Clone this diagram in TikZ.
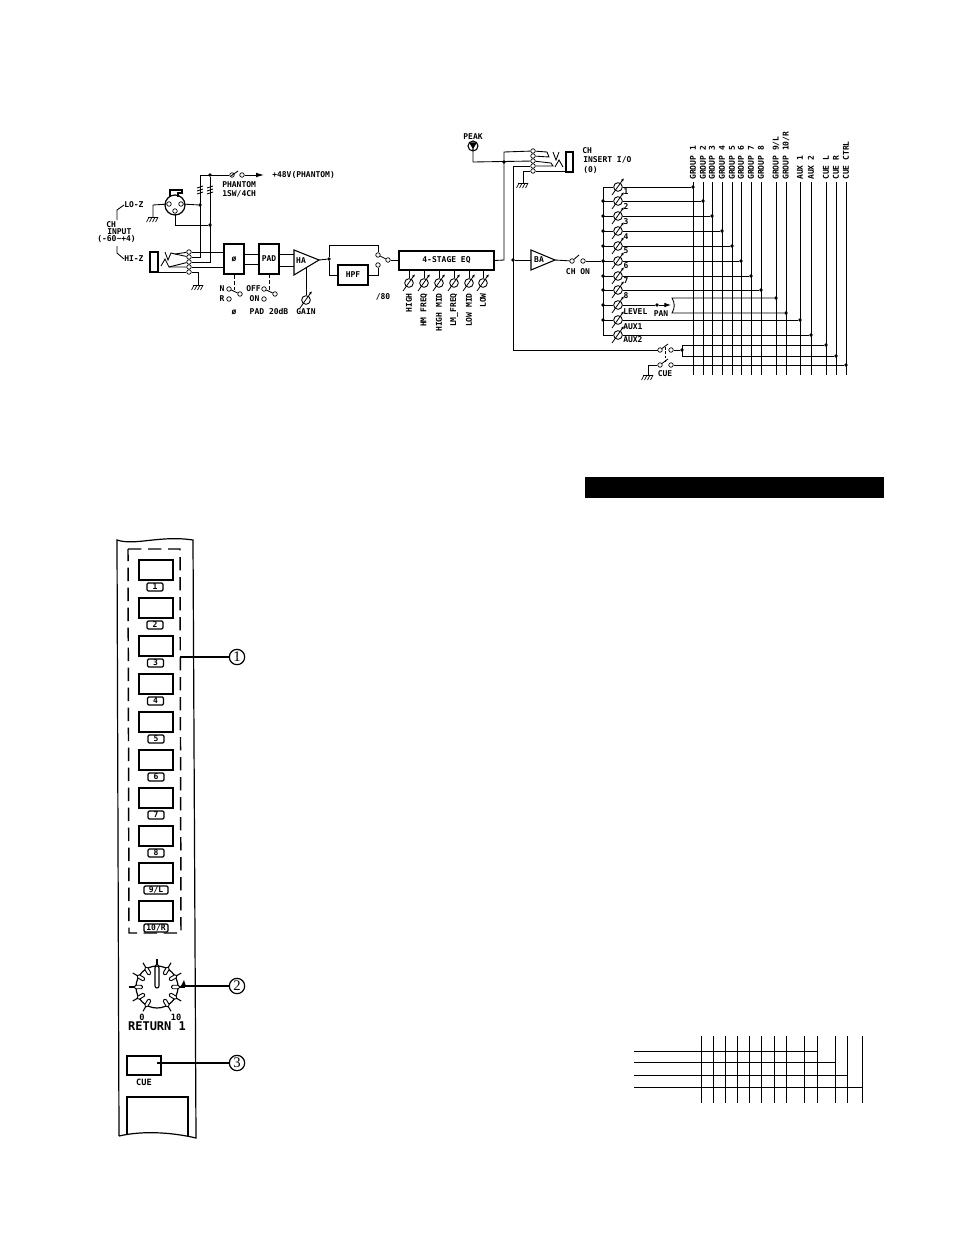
\documentclass[tikz,border=0pt]{standalone}
\usepackage{fontspec}
\setmainfont{DejaVu Sans Mono}
\newfontfamily\circfont{Liberation Serif}
\usetikzlibrary{arrows.meta,calc}
\tikzset{
 wire/.style={line width=0.65pt},
 term/.style={circle,draw,fill=white,inner sep=0,minimum size=3.4pt,line width=.5pt},
 jdot/.style={circle,fill=black,inner sep=0,minimum size=2.8pt},
 box/.style={draw,line width=.8pt,inner sep=0,font=\bfseries\fontsize{6}{7}\selectfont},
 lbl/.style={font=\bfseries\fontsize{6}{7}\selectfont,inner sep=0},
 btn/.style={draw,line width=1.5pt,fill=white,inner sep=0,minimum width=25.5pt,minimum height=15pt},
 tag/.style={draw,line width=.9pt,rounded corners=1pt,inner sep=0,minimum width=12pt,minimum height=6pt,font=\bfseries\fontsize{6}{7}\selectfont},
 callout/.style={circle,draw,line width=.9pt,fill=white,inner sep=0,minimum size=11.5pt,font=\circfont\fontsize{11}{11}\selectfont},
 leader/.style={line width=1pt},
 panel/.style={line width=.9pt},
 pnl/.style={font=\bfseries\fontsize{6.5}{7}\selectfont,inner sep=0},
}
\newcommand\gndsym[3]{% name x y
 \coordinate (#1) at (#2,#3);
 \draw[wire] (#2-5,#3)--(#2+5,#3);
 \foreach \d in {-4,-1,2,5}{\draw[line width=.5pt] (#2+\d,#3)--(#2+\d-2.5,#3+5);}
}
\newcommand\potm[3]{% name x y
 \node[circle,draw,line width=.65pt,inner sep=0,minimum size=6.5pt] (#1) at (#2,#3) {};
 \draw[line width=.6pt,-{Latex[length=2.5pt,width=2pt]}] (#2-6,#3+8)--(#2+6,#3-9);
}
\begin{document}
\begin{tikzpicture}[x=0.75pt,y=-0.75pt]
\useasboundingbox (0,0) rectangle (954,1235);
\fill[white] (0,0) rectangle (954,1235);

% ---------- input section
\coordinate (Ja) at (200,175);
\node[jdot] (Jb) at (210,175) {};
\node[term] (ph1) at (232,175) {};
\node[term] (ph2) at (242,175) {};
\coordinate (phend) at (264,175);
\draw[wire] (Ja)--(ph1);
\draw[wire] (231,176)--(238,171);
\draw[wire,-{Latex[length=6pt,width=3.5pt]}] (ph2)--(phend);
\node[lbl,anchor=west] (t48) at (272,175) {+48V(PHANTOM)};
\node[lbl,anchor=west] (tph) at (222,185) {PHANTOM};
\node[lbl,anchor=west] (tsw) at (222,194) {1SW/4CH};
\foreach \x in {200,210}{\foreach \y in {187,190,193}{\draw[line width=.6pt] (\x-3,\y+1)--(\x+3,\y-1);}}

% XLR
\node[circle,draw,line width=.9pt,inner sep=0,minimum size=15pt] (xlr) at (175,205) {};
\draw[line width=.8pt] (170,197)--(170,190)--(182,190)--(182,193)--(178,193)--(178,197);
\node[term] (xa) at (169,204) {};
\node[term] (xb) at (181,204) {};
\node[term] (xc) at (175,211) {};
\node[jdot] (xj1) at (200,205) {};
\node[jdot] (xj2) at (210,225) {};
\gndsym{g1}{153}{217}
\draw[wire] (g1)--(153,205)--(xa);
\draw[wire] (xb)--(xj1);
\draw[wire] (xc)|-(xj2);

% CH input text
\node[lbl,anchor=west] (tlo) at (124,205) {LO-Z};
\node[lbl,anchor=west] (thi) at (124,259) {HI-Z};
\node[lbl,anchor=west] (tch) at (106,225) {CH};
\node[lbl,anchor=west] (tin) at (107,232) {INPUT};
\node[lbl,anchor=west] (tr) at (97,239) {(-60\textasciitilde+4)};
\draw[wire] (tlo.west)--(117,210)--(117,220);
\draw[wire] (thi.west)--(117,253)--(117,246);

% input jack
\draw[line width=.9pt] (150,252) rectangle (158,272);
\node[term] (i1) at (189,252) {};
\node[term] (i2) at (189,257) {};
\node[term] (i3) at (189,262) {};
\node[term] (i4) at (189,267) {};
\node[term] (i5) at (189,272) {};
\draw[wire] (165,252)--(168,260)--(171,253)--(175,254)--(i1);
\draw[wire] (175,254)--(i2);
\draw[wire] (161,266)--(165,259)--(169,267)--(i4);
\draw[wire] (169,267)--(i3);
\draw[wire] (158,272)--(i5);
\draw[wire] (Ja)--(200,257)--(i2);
\draw[wire] (Jb)--(210,262)--(i3);
\gndsym{g2}{198}{285}
\draw[wire] (i5)--(198,272)--(g2);

% boxes
\node[box,minimum width=15pt,minimum height=22.5pt] (phi) at (234,259) {ø};
\node[box,minimum width=15pt,minimum height=22.5pt] (pad) at (269,259) {PAD};
\draw[wire] (i1)--(224,252);
\draw[wire] (i4)--(224,267);
\draw[wire] (244,254)--(259,254);
\draw[wire] (244,264)--(259,264);
\draw[line width=.8pt] (294,250)--(319,260)--(294,275)--cycle;
\node[lbl] (ha) at (301,261) {HA};
\coordinate (haout) at (319,260);
\draw[wire] (279,254)--(294,254);
\draw[wire] (279,266)--(294,266);
\node[jdot] (hj) at (329,259) {};
\draw[wire] (haout)--(hj);
\potm{gain}{306}{300}
\draw[wire] (306,267)--(gain);
\node[lbl] (tgain) at (306,312) {GAIN};

% N/R and OFF/ON
\node[lbl] (tn) at (222,289) {N};
\node[lbl] (tR) at (222,299) {R};
\node[term] (n1) at (229,289) {};
\node[term] (n2) at (229,299) {};
\node[term] (n3) at (240,294) {};
\draw[wire] (n1)--(n3);
\draw[wire,dash pattern=on 3pt off 1.5pt] (phi.south)--(234,290);
\node[lbl] (toff) at (253.5,289) {OFF};
\node[lbl] (ton) at (254.5,299) {ON};
\node[term] (o1) at (264,289) {};
\node[term] (o2) at (264,299) {};
\node[term] (o3) at (275,294) {};
\draw[wire,dash pattern=on 3pt off 1.5pt] (269,274)--(269,290);
\draw[wire] (o1)--(o3);
\node[lbl] (tphi) at (234,312) {ø};
\node[lbl] (tpad) at (269,312) {PAD 20dB};

% HPF & switch
\node[box,minimum width=22.5pt,minimum height=15pt] (hpf) at (353,275) {HPF};
\node[term] (s1) at (378,255) {};
\node[term] (s2) at (378,265) {};
\node[term] (s3) at (388,260) {};
\draw[wire] (hj)--(329,245)-|(s1);
\draw[wire] (hj)--(329,275)--(hpf);
\draw[wire] (hpf)-|(s2);
\draw[wire] (s1)--(s3);
\node[lbl] (t80) at (383,297) {/80};

% EQ
\node[box,minimum width=71.25pt,minimum height=14.25pt] (eq) at (446.5,260.5) {4-STAGE EQ};
\draw[wire] (s3)--(399,260);
\foreach \n/\x/\t in {e1/409/HIGH,e2/424/HM FREQ,e3/439/HIGH MID,e4/454/LM\_FREQ,e5/469/LOW MID,e6/483/LOW}{
 \potm{\n}{\x}{283}
 \draw[wire] (\x,270)--(\n);
 \node[lbl,rotate=90,anchor=east] (t\n) at (\x,293) {\t};
}

% insert
\node[circle,draw,line width=.8pt,inner sep=0,minimum size=7.5pt] (peak) at (473,146) {};
\draw[line width=.8pt,fill=black] (470,143)--(476,143)--(473,148)--cycle (473,148)--(473,151);
\node[lbl] (tpk) at (473,137) {PEAK};
\node[term] (r1) at (533,151) {};
\node[term] (r2) at (533,156) {};
\node[term] (r3) at (533,161) {};
\node[term] (r4) at (533,166) {};
\node[term] (r5) at (533,171) {};
\node[jdot] (rj) at (504,162) {};
\draw[wire] (eq.east)--(504,260)--(504,152)--(r1);
\draw[wire] (peak)--(473,162)--(r3);
\draw[line width=.9pt] (566,152) rectangle (573,172);
\draw[wire] (r1)--(547,152)--(549,157)--(r2);
\draw[wire] (553,152)--(556,160)--(559,152);
\draw[wire] (r3)--(551,163)--(553,166)--(r4);
\draw[wire] (555,167)--(559,160)--(563,167);
\draw[wire] (r5)--(566,171);
\gndsym{g3}{523}{183}
\draw[wire] (r5)--(523,171)--(g3);
\node[lbl,anchor=west] (tci) at (582,151) {CH};
\node[lbl,anchor=west] (tin2) at (583,160) {INSERT I/O};
\node[lbl,anchor=west] (to) at (583,170) {(0)};

% BA
\node[jdot] (bj) at (513,260) {};
\draw[line width=.8pt] (531,250)--(555,260)--(531,270)--cycle;
\node[lbl] (ba) at (539,260) {BA};
\coordinate (baout) at (555,260);
\node[term] (c1) at (572,261) {};
\node[term] (c2) at (583,261) {};
\draw[wire] (baout)--(c1);
\draw[wire] (c1)--(579,255);
\node[lbl] (tcho) at (578,272) {CH ON};
\node[jdot] (busin) at (603,261) {};
\draw[wire] (c2)--(busin);
\draw[wire] (r4)--(513,166)--(513,350)--(658,350);
\draw[wire] (bj)--(531,260);

% bus & pots
\coordinate (bustop) at (603,187);
\coordinate (busbot) at (603,335);
\draw[wire] (bustop)--(busbot);
\foreach \n/\y in {p1/187,p2/201,p3/216,p4/231,p5/246,p6/261,p7/276,p8/290,p9/305,p10/320,p11/335}{
 \potm{\n}{618}{\y}
 \draw[wire] (603,\y)--(\n);
}
\foreach \y in {201,216,231,246,276,290,305,320}{\node[jdot] at (603,\y) {};}

% output verticals
\foreach \n/\x/\t in {v1/693/GROUP 1,v2/703/GROUP 2,v3/712/GROUP 3,v4/722/GROUP 4,v5/732/GROUP 5,v6/741/GROUP 6,v7/751/GROUP 7,v8/761/GROUP 8,v9/776/{GROUP 9/L},v10/786/{GROUP 10/R},v11/800/AUX 1,v12/811/AUX 2,v13/826/CUE L,v14/836/CUE R,v15/846/CUE CTRL}{
 \node[lbl,rotate=90,anchor=west] (t\n) at (\x,180) {\t};
 \draw[wire] (\x,182)--(\x,375);
}
\foreach \p/\y/\x in {p1/187/693,p2/201/703,p3/216/712,p4/231/722,p5/246/732,p6/261/741,p7/276/751,p8/290/761,p10/320/800,p11/335/811}{
 \node[jdot] (d\p) at (\x,\y) {};
 \draw[wire] (\p)--(d\p);
}
\foreach \t/\y in {1/192,2/207,3/222,4/237,5/251,6/266,7/281,8/296}{\node[lbl] at (626,\y) {\t};}
\node[lbl,anchor=west] (tlevel) at (623,312) {LEVEL};
\node[lbl,anchor=west] (taux1) at (623,327) {AUX1};
\node[lbl,anchor=west] (taux2) at (623,340) {AUX2};

% PAN
\node[jdot] (pj) at (657,305) {};
\coordinate (parr) at (671,305);
\draw[wire] (p9)--(pj);
\draw[wire,-{Latex[length=5pt,width=3.5pt]}] (pj)--(parr);
\node[lbl] (tpan) at (661,314) {PAN};
\node[jdot] (d9) at (776,298) {};
\node[jdot] (d10) at (786,313) {};
\draw[wire] (d9)--(672,298) .. controls (675,303) and (675,308) .. (672,313)--(d10);

% CUE switches
\node[term] (u1) at (660,350) {};
\node[term] (u2) at (671,350) {};
\node[term] (w1) at (660,365) {};
\node[term] (w2) at (671,365) {};
\node[jdot] (uj) at (682,350) {};
\node[jdot] (d13) at (826,345) {};
\node[jdot] (d14) at (836,356) {};
\node[jdot] (d15) at (846,365) {};
\draw[wire] (u1)--(668,344);
\draw[wire] (w1)--(668,359);
\draw[wire,dash pattern=on 2pt off 1.2pt] (665,347)--(665,362);
\draw[wire] (u2)--(uj);
\draw[wire] (d13)--(682,345)--(682,356)--(d14);
\draw[wire] (w2)--(d15);
\gndsym{g4}{648}{375}
\draw[wire] (w1)--(648,365)--(g4);
\node[lbl] (tcue) at (665,374) {CUE};

% ---------- black bar
\fill[black] (585,477) rectangle (884,498);

% ---------- panel
\draw[panel] (119,1136) -- (117,540) .. controls (135,546) and (160,535) .. (193,540) -- (196,1138) .. controls (175,1133) and (145,1130) .. (119,1136);
\draw[line width=1.1pt,dash pattern=on 10pt off 5pt] (128,549)--(180,549)--(181,933)--(129,933)--cycle;
\foreach \n/\y in {1/570,2/608,3/646,4/684,5/722,6/760,7/798,8/836,9/873,10/911}{
 \node[btn] (b\n) at (155.5,\y) {};
}
\node[tag] (l1) at (155,587) {1};
\node[tag] (l2) at (155,625) {2};
\node[tag] (l3) at (155.5,663) {3};
\node[tag] (l4) at (155.5,701) {4};
\node[tag] (l5) at (156,739) {5};
\node[tag] (l6) at (156,777) {6};
\node[tag] (l7) at (156,815) {7};
\node[tag] (l8) at (156,853) {8};
\node[tag,minimum width=18pt,fill=white] (l9) at (156,890) {9/L};
\node[tag,minimum width=18pt,fill=white] (l10) at (156,928) {10/R};

\node[callout] (c1n) at (237,657) {1};
\coordinate (lead1) at (180,657);
\draw[leader] (lead1)--(c1n);

% knob
\coordinate (knob) at (157,987);
\draw[line width=.9pt] (knob) circle [radius=21];
\foreach \a in {-60,-30,...,240}{
 \draw[line width=.8pt] ({157+21*cos(\a)},{987-21*sin(\a)})--({157+28*cos(\a)},{987-28*sin(\a)});
 \node[draw,line width=.7pt,fill=white,rounded corners=1pt,inner sep=0,minimum width=6pt,minimum height=2.6pt,rotate=\a] at ({157+18.5*cos(\a)},{987-18.5*sin(\a)}) {};
}
\draw[line width=.8pt,fill=white,rounded corners=1.5pt] (155,988)--(155,966)--(159,966)--(159,988)--cycle;
\fill[black] (181,986)--(186,986)--(184,980)--cycle;
\node[callout] (c2n) at (237,986) {2};
\coordinate (lead2) at (181,986);
\draw[leader] (lead2)--(c2n);
\node[pnl] (t0) at (142,1017) {0};
\node[pnl] (t10) at (176,1017) {10};
\node[inner sep=0,font=\bfseries\fontsize{9}{10}\selectfont] (tret) at (157,1026) {RETURN 1};

\node[btn,minimum height=14pt] (cue) at (144,1065.5) {};
\node[callout] (c3n) at (237,1063) {3};
\coordinate (lead3) at (157,1063);
\draw[leader] (lead3)--(c3n);
\node[pnl] (tcue2) at (144,1082) {CUE};
\draw[line width=.8pt] (127,1134)--(127,1097)--(188,1097)--(188,1137);

% ---------- table
\foreach \n/\x in {a/701,b/713,c/725,d/737,e/749,f/761,g/774,h/786,i/804,j/817,k/835,l/847,m/862}{
 \coordinate (\n t) at (\x,1036);
 \coordinate (\n b) at (\x,1103);
 \draw[line width=.7pt] (\n t)--(\n b);
}
\foreach \y/\x in {1051/817,1062/835,1075/847,1087/862}{
 \draw[line width=.7pt] (634,\y)--(\x,\y);
}
\end{tikzpicture}
\end{document}
